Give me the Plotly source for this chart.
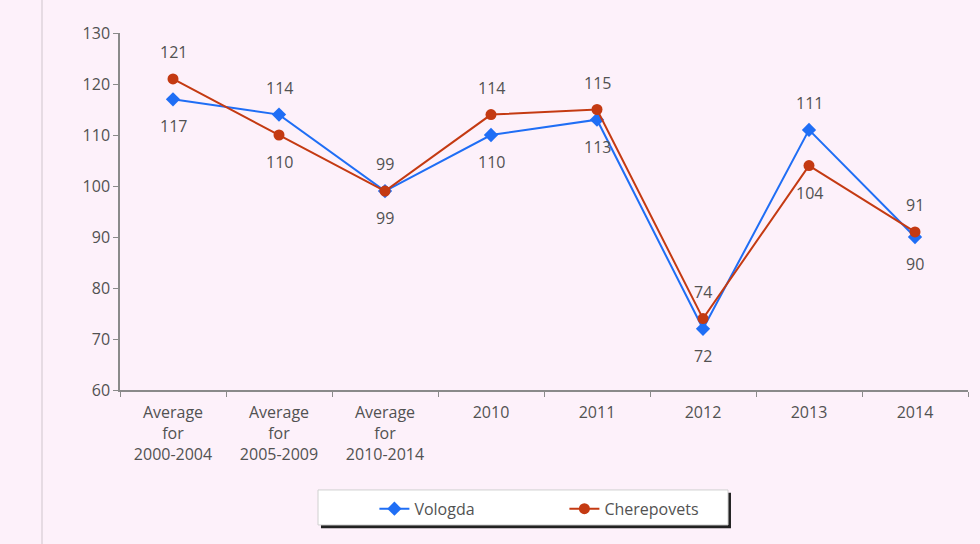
import plotly.graph_objects as go

categories = ["Average<br>for<br>2000-2004", "Average<br>for<br>2005-2009", "Average<br>for<br>2010-2014",
              "2010", "2011", "2012", "2013", "2014"]
vologda = [117, 114, 99, 110, 113, 72, 111, 90]
cherepovets = [121, 110, 99, 114, 115, 74, 104, 91]
vologda_label_pos = ["below", "above", "below", "below", "below", "below", "above", "below"]
cherepovets_label_pos = ["above", "below", "above", "above", "above", "above", "below", "above"]

BLUE = "#1f6ef5"
RED = "#c43a12"
FONT = "'Open Sans', Lato, sans-serif"
GRAY = "#525252"
FS = 16

xs = list(range(len(categories)))
boundaries = [i - 0.5 for i in range(len(categories) + 1)]

fig = go.Figure()
fig.add_trace(go.Scatter(x=xs, y=vologda, name="Vologda", mode="lines+markers",
                         line=dict(color=BLUE, width=2),
                         marker=dict(symbol="diamond", size=11, color=BLUE)))
fig.add_trace(go.Scatter(x=xs, y=cherepovets, name="Cherepovets", mode="lines+markers",
                         line=dict(color=RED, width=2),
                         marker=dict(symbol="circle", size=11, color=RED)))

for vals, pos in ((vologda, vologda_label_pos), (cherepovets, cherepovets_label_pos)):
    for i, v, p in zip(xs, vals, pos):
        fig.add_annotation(x=i, y=v, text=str(v), showarrow=False,
                           yshift=27 if p == "above" else -27,
                           font=dict(family=FONT, size=FS, color=GRAY))

# legend box with shadow
fig.add_shape(type="rect", xref="paper", yref="paper", x0=0.2370, x1=0.7205, y0=-0.387, y1=-0.288,
              fillcolor="#222222", line=dict(width=0), layer="below")
fig.add_shape(type="rect", xref="paper", yref="paper", x0=0.2335, x1=0.717, y0=-0.378, y1=-0.280,
              fillcolor="white", line=dict(color="#d0d0d0", width=1), layer="below")
# faint vertical line at the left
fig.add_shape(type="line", xref="paper", yref="paper", x0=-0.092, x1=-0.092, y0=-0.435, y1=1.1,
              line=dict(color="#e6dbe3", width=2))

fig.update_layout(
    width=980, height=544,
    margin=dict(l=120, r=12, t=33, b=154),
    paper_bgcolor="#fdf1fa", plot_bgcolor="#fdf1fa",
    font=dict(family=FONT, size=FS, color=GRAY),
    showlegend=True,
    legend=dict(orientation="h", x=0.30, xanchor="left", y=-0.285, yanchor="top",
                bgcolor="rgba(0,0,0,0)", font=dict(family=FONT, size=FS, color=GRAY),
                entrywidth=145, entrywidthmode="pixels"),
    xaxis=dict(range=[-0.5, len(categories) - 0.5], tickvals=xs, ticktext=categories,
               showgrid=False, showline=True, linecolor="#8a8a8a", linewidth=1.5,
               ticks="", zeroline=False, ticklabelstandoff=7,
               minor=dict(tickvals=boundaries, ticks="outside", ticklen=5, tickcolor="#8a8a8a",
                          showgrid=False),
               tickfont=dict(family=FONT, size=FS, color=GRAY)),
    yaxis=dict(range=[60, 130], dtick=10, showgrid=False, showline=True, linecolor="#8a8a8a",
               linewidth=1.5, ticks="outside", ticklen=5, tickcolor="#8a8a8a", zeroline=False,
               tickfont=dict(family=FONT, size=FS, color=GRAY)),
)

fig.write_html("out.html", config={"displayModeBar": False},
               post_script="document.body.style.margin='0';")
